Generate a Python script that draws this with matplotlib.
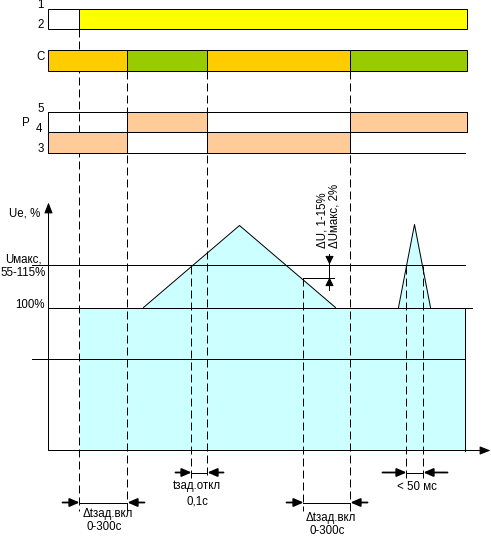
# ============================================================
# Timing diagram — voltage relay (Ue, contacts C / P)
# Everything is drawn in pixel units of the 491x536 picture
# ============================================================

import matplotlib
matplotlib.use('Agg')
import matplotlib.pyplot as plt

plt.rcParams['font.family'] = ['Liberation Sans', 'DejaVu Sans']

# ============================================================
# 1. DATA  (time axis and voltage levels, in picture units)
# ============================================================
t_start   = 48           # left edge of the diagram
t_end     = 467          # right edge of the bars
t_power   = 79           # supply switched on (row 1/2)
t_switch  = [48, 127, 207, 350, 467]     # contact C / P change-over moments
c_states  = ['#FFCC00', '#99CC00', '#FFCC00', '#99CC00']
p4_states = [False, True, False, True]   # row 4 energised
p3_states = [True, False, True, False]   # row 3 energised

# voltage curve (fill from 100% level down to the time axis)
volt_t = [79, 143, 239, 335, 398, 414, 430, 465]
volt_u = [307, 307, 225, 307, 307, 224, 307, 307]

lvl_axis  = 450   # time axis
lvl_100   = 307   # 100 %
lvl_max   = 264   # Uмакс
lvl_hyst  = 277   # Uмакс - ΔU
lvl_low   = 358   # lower reference line

# dashed markers: (time, from, to)
markers = [(79, 28, 510), (127, 70, 510), (191, 265, 478), (207, 70, 478),
           (303, 277, 510), (350, 70, 510), (406, 265, 478), (423, 265, 478)]

# interval dimensions: (t1, t2, level, outer arrow length)
intervals = [(79, 127, 502, 17), (191, 207, 472, 16),
             (303, 350, 502, 17), (406, 423, 472, 24)]

fig = plt.figure(figsize=(491 / 72, 536 / 72), dpi=72)
ax = fig.add_axes([0, 0, 1, 1])
ax.set_xlim(-0.5, 490.5)
ax.set_ylim(535.5, -0.5)
ax.axis('off')

LW = 1
FS = 11.5

# ============================================================
# 2. DASHED MARKERS (under the bars)
# ============================================================
for x, y0, y1 in markers:
    ax.plot([x, x], [y0, y1], color='black', lw=LW,
            linestyle=(0, (8, 4)), zorder=2)

# ============================================================
# 3. ROW 1/2 — SUPPLY
# ============================================================
ax.add_patch(plt.Rectangle((t_start, 8), t_power - t_start, 20,
                           facecolor='white', edgecolor='black', lw=LW, zorder=3))
ax.add_patch(plt.Rectangle((t_power, 8), t_end - t_power, 20,
                           facecolor='#FFFF00', edgecolor='black', lw=LW, zorder=3))

# ============================================================
# 4. ROW C
# ============================================================
for i, col in enumerate(c_states):
    ax.add_patch(plt.Rectangle((t_switch[i], 49), t_switch[i + 1] - t_switch[i], 21,
                               facecolor=col, edgecolor='black', lw=LW, zorder=3))

# ============================================================
# 5. ROWS P (5 / 4 / 3)
# ============================================================
for y in [111, 131]:
    ax.plot([t_start, t_end], [y, y], color='black', lw=LW, zorder=3)
ax.plot([t_start, 465], [152, 152], color='black', lw=LW, zorder=3)
ax.plot([t_start, t_start], [111, 152], color='black', lw=LW, zorder=3)
for i in range(4):
    w = t_switch[i + 1] - t_switch[i]
    if p4_states[i]:
        ax.add_patch(plt.Rectangle((t_switch[i], 111), w, 20,
                                   facecolor='#FFCC99', edgecolor='black', lw=LW, zorder=3))
    if p3_states[i]:
        ax.add_patch(plt.Rectangle((t_switch[i], 131), w, 21,
                                   facecolor='#FFCC99', edgecolor='black', lw=LW, zorder=3))

# row labels
for txt, x, y in [('1', 40, 8), ('2', 40, 28), ('С', 40, 60), ('5', 40, 112),
                  ('Р', 25, 126), ('4', 39, 131), ('3', 40, 152)]:
    ax.text(x, y, txt, fontsize=FS, ha='center', va='baseline')

# ============================================================
# 6. VOLTAGE GRAPH
# ============================================================
ax.fill_between(volt_t, volt_u, lvl_axis, color='#CCFFFF', lw=0, zorder=1)
ax.plot(volt_t[1:4], volt_u[1:4], color='black', lw=LW, zorder=3)
ax.plot(volt_t[4:7], volt_u[4:7], color='black', lw=LW, zorder=3)
ax.plot([465, 465], [lvl_100, lvl_axis], color='black', lw=LW, zorder=3)

ax.plot([t_start, 472], [lvl_100, lvl_100], color='black', lw=LW, zorder=3)
ax.plot([32, 465], [lvl_max, lvl_max], color='black', lw=LW, zorder=3)
ax.plot([32, 465], [lvl_low, lvl_low], color='black', lw=LW, zorder=3)

# hysteresis step
ax.plot([303, 334], [lvl_hyst, lvl_hyst], color='black', lw=LW, zorder=3)
ax.plot([303, 303], [lvl_hyst, 280], color='black', lw=LW, zorder=3)

# axes with arrows
ax.annotate('', xy=(t_start, 202), xytext=(t_start, lvl_axis),
            arrowprops=dict(arrowstyle='-|>,head_length=0.9,head_width=0.35',
                            color='black', lw=LW, shrinkA=0, shrinkB=0),
            zorder=4)
ax.annotate('', xy=(490, lvl_axis), xytext=(t_start, lvl_axis),
            arrowprops=dict(arrowstyle='-|>,head_length=0.9,head_width=0.35',
                            color='black', lw=LW, shrinkA=0, shrinkB=0),
            zorder=4)

# ΔU arrows
ax.plot([329, 329], [253, 289], color='black', lw=LW, zorder=3)
for tip, tail in [(lvl_max, 254), (lvl_hyst, 288)]:
    ax.annotate('', xy=(329, tip), xytext=(329, tail),
                arrowprops=dict(arrowstyle='-|>,head_length=0.7,head_width=0.35',
                                color='black', lw=LW, shrinkA=0, shrinkB=0),
                zorder=4)
ax.text(325, 248, 'ΔU, 1-15%', fontsize=FS, rotation=90,
        rotation_mode='anchor', ha='left', va='baseline')
ax.text(337, 248, 'ΔUмакс, 2%', fontsize=FS, rotation=90,
        rotation_mode='anchor', ha='left', va='baseline')

# level labels
ax.text(40, 216, 'Ue, %', fontsize=FS, ha='right', va='baseline')
ax.text(23, 262, 'Uмакс,', fontsize=FS, ha='center', va='baseline')
ax.text(23, 276, '55-115%', fontsize=FS, ha='center', va='baseline')
ax.text(44, 307, '100%', fontsize=FS, ha='right', va='baseline')

# ============================================================
# 7. INTERVAL DIMENSIONS
# ============================================================
for t1, t2, y, L in intervals:
    ax.plot([t1, t2], [y, y], color='black', lw=LW, zorder=3)
    for tip, tail in [(t1, t1 - L), (t2, t2 + L)]:
        ax.annotate('', xy=(tip, y), xytext=(tail, y),
                    arrowprops=dict(arrowstyle='-|>,head_length=0.8,head_width=0.35',
                                    color='black', lw=1.8, shrinkA=0, shrinkB=0),
                    zorder=4)

ax.text(107, 517, 'Δtзад.вкл', fontsize=FS, ha='center', va='baseline')
ax.text(104, 530, '0-300с', fontsize=FS, ha='center', va='baseline')
ax.text(196, 488, 'tзад.откл', fontsize=FS, ha='center', va='baseline')
ax.text(197, 504, '0,1с', fontsize=FS, ha='center', va='baseline')
ax.text(330, 520, 'Δtзад.вкл', fontsize=FS, ha='center', va='baseline')
ax.text(327, 533, '0-300с', fontsize=FS, ha='center', va='baseline')
ax.text(416, 490, '< 50 мс', fontsize=FS, ha='center', va='baseline')

fig.savefig('out.png', dpi=72, facecolor='white')
